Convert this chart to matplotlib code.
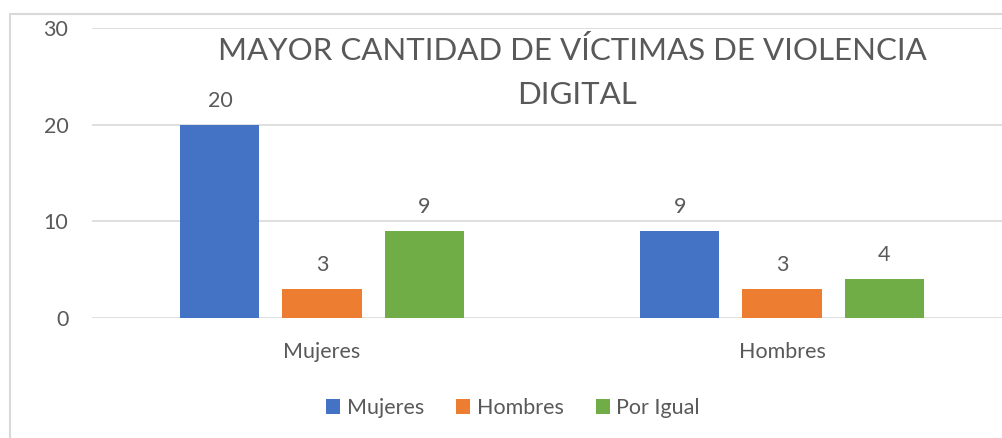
import numpy as np
import matplotlib.pyplot as plt
from matplotlib.patches import Rectangle

categorias = ['Mujeres', 'Hombres']
series = ['Mujeres', 'Hombres', 'Por Igual']
mujeres = [20, 9]
hombres = [3, 3]
por_igual = [9, 4]
colores = ['#4472C4', '#ED7D31', '#70AD47']
titulo = ['MAYOR CANTIDAD DE VÍCTIMAS DE VIOLENCIA', 'DIGITAL']

plt.rcParams['font.family'] = ['Lato', 'DejaVu Sans']
gris = '#595959'

fig = plt.figure(figsize=(10.02, 4.38), dpi=100)
ax = fig.add_axes([92/1002, 120/438, 920/1002, 290/438])

x = np.arange(len(categorias))
ancho = 0.172
paso = 0.222
for i, (nombre, valores) in enumerate(zip(series, [mujeres, hombres, por_igual])):
    barras = ax.bar(x + (i - 1) * paso, valores, ancho, color=colores[i], label=nombre, zorder=3)
    ax.bar_label(barras, padding=10, fontsize=15.5, color=gris)

ax.set_xlim(-0.5, 1.5)
ax.set_ylim(0, 30)
ax.set_yticks([0, 10, 20, 30])
ax.set_xticks(x)
ax.set_xticklabels(categorias)
ax.grid(axis='y', color='#d9d9d9', lw=1.2, zorder=0)
for s in ax.spines.values():
    s.set_visible(False)
ax.tick_params(axis='y', length=0, pad=17, labelsize=15.5, labelcolor=gris)
ax.tick_params(axis='x', length=0, pad=17, labelsize=15.5, labelcolor=gris)

# titulo en dos lineas separadas
fig.text(572/1002, 1 - 51/438, titulo[0], ha='center', va='center', fontsize=22.5, color=gris)
fig.text(577/1002, 1 - 95/438, titulo[1], ha='center', va='center', fontsize=22.5, color=gris)

fig.legend(loc='center', bbox_to_anchor=(513/1002, 1 - 408/438), ncol=3, frameon=False,
           fontsize=15.5, labelcolor=gris, handlelength=0.65, handleheight=0.65,
           handletextpad=0.3, columnspacing=1.5)

fig.add_artist(Rectangle((10/1002, -0.1), 1.1, (438 - 14)/438 + 0.1, transform=fig.transFigure,
                         fill=False, edgecolor='#d9d9d9', lw=1.5))

fig.savefig('out.png', dpi=100)
